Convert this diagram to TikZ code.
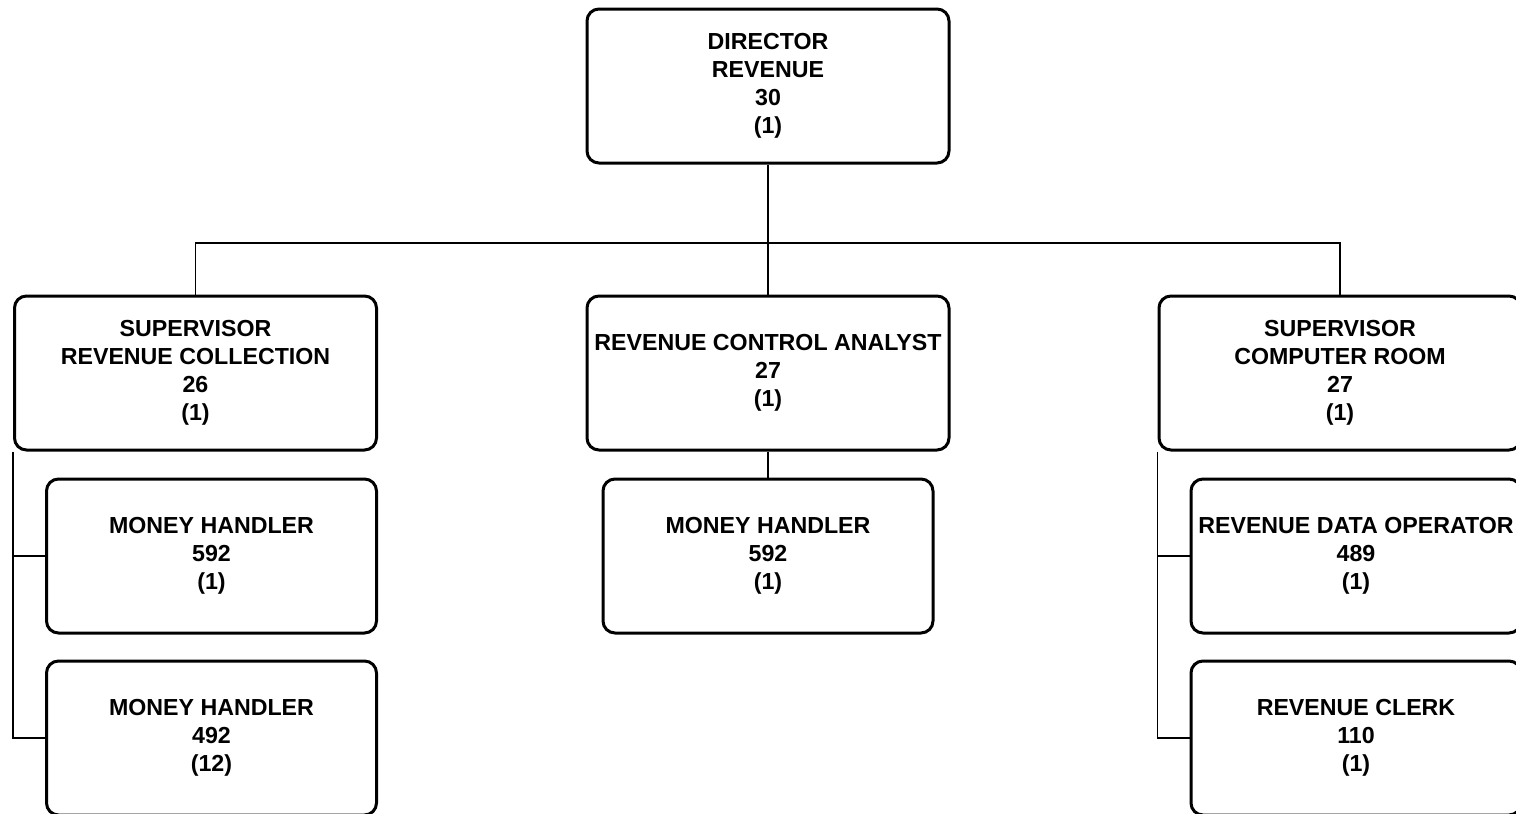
\documentclass[tikz,border=0pt]{standalone}
\usepackage{fontspec}
\setmainfont{Liberation Sans}
\usetikzlibrary{positioning}
\tikzset{
  org-box/.style={
    draw=black, line width=1.5pt, rounded corners=6pt,
    fill=white, font=\bfseries\fontsize{11.6}{14}\selectfont, align=center,
    inner sep=0pt, minimum width=181pt, minimum height=77pt
  },
  org-sub/.style={org-box, minimum width=165pt},
  org-line/.style={line width=0.8pt, draw=black}
}
\begin{document}
\begin{tikzpicture}[x=0.5pt, y=-0.5pt]
\useasboundingbox (0,0) rectangle (1516,814);
\clip (0,0) rectangle (1516,814);

\node[org-box] (dir) at (768,86) {DIRECTOR\\ REVENUE\\ 30\\ (1)};
\node[org-box] (supcol) at (195.5,373)
  {SUPERVISOR\\ REVENUE COLLECTION\\ 26\\ (1)};
\node[org-box] (analyst) at (768,373)
  {REVENUE CONTROL ANALYST\\ 27\\ (1)};
\node[org-box] (supcomp) at (1340,373)
  {SUPERVISOR\\ COMPUTER ROOM\\ 27\\ (1)};
\node[org-sub] (mhone) at (211.5,556) {MONEY HANDLER\\ 592\\ (1)};
\node[org-sub] (mhtwelve) at (211.5,738) {MONEY HANDLER\\ 492\\ (12)};
\node[org-sub] (mhana) at (768,556) {MONEY HANDLER\\ 592\\ (1)};
\node[org-sub] (dataop) at (1356,556) {REVENUE DATA OPERATOR\\ 489\\ (1)};
\node[org-sub] (clerk) at (1356,738) {REVENUE CLERK\\ 110\\ (1)};

\coordinate (bus) at (768,243);

% Reporting lines
\draw[org-line] (dir.south) -- (analyst.north);
\draw[org-line] (supcol.north) -- (supcol.north |- bus)
  -- (supcomp.north |- bus) -- (supcomp.north);
\draw[org-line] (analyst.south) -- (mhana.north);
\draw[org-line] (supcol.south west) -- (supcol.south west |- mhtwelve.west)
  -- (mhtwelve.west);
\draw[org-line] (supcol.south west |- mhone.west) -- (mhone.west);
\draw[org-line] (supcomp.south west) -- (supcomp.south west |- clerk.west)
  -- (clerk.west);
\draw[org-line] (supcomp.south west |- dataop.west) -- (dataop.west);
\end{tikzpicture}
\end{document}
